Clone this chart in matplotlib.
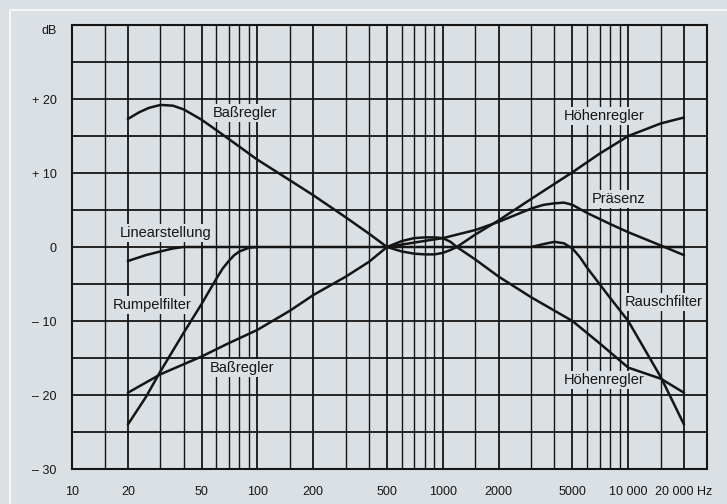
import matplotlib.pyplot as plt
from matplotlib.lines import Line2D

plt.rcParams['font.family'] = ['Liberation Sans', 'DejaVu Sans']

# Baßregler (Anhebung) + Höhenregler (Absenkung)
f_bass_up = [20, 23, 26, 30, 35, 40, 50, 60, 70, 100, 150, 200, 300, 400, 500, 600, 700, 800, 900,
             1000, 1100, 1190, 1500, 2000, 3000, 5000, 7000, 10000, 15000, 20000]
db_bass_up = [17.3, 18.2, 18.8, 19.2, 19.1, 18.6, 17.2, 15.8, 14.6, 11.8, 9.0, 7.0, 4.0, 1.8, 0.0, -0.6,
              -0.9, -1.0, -1.0, -0.8, -0.4, 0.0, -1.7, -4.0, -6.8, -10.0, -13.0, -16.3, -17.8, -19.7]

# Baßregler (Absenkung) + Höhenregler (Anhebung)
f_bass_down = [20, 30, 50, 70, 100, 150, 200, 300, 400, 500, 600, 700, 800, 900, 1000, 1100, 1190,
               1500, 2000, 3000, 5000, 7000, 10000, 15000, 20000]
db_bass_down = [-19.7, -17.2, -14.8, -13.0, -11.2, -8.6, -6.5, -4.0, -2.0, 0.0, 0.8, 1.2, 1.3, 1.3, 1.2,
                0.7, 0.0, 1.7, 3.6, 6.5, 10.1, 12.6, 15.0, 16.7, 17.5]

f_linear = [20, 25, 30, 35, 40, 20000]
db_linear = [-1.9, -1.1, -0.6, -0.2, 0.0, 0.0]

f_rumpel = [20, 25, 30, 40, 50, 60, 65, 70, 75, 80, 90, 100]
db_rumpel = [-24.0, -20.3, -16.8, -11.6, -7.7, -4.3, -2.9, -1.9, -1.1, -0.6, -0.1, 0.0]

f_praesenz = [500, 700, 1000, 1500, 2000, 3000, 3500, 4000, 4500, 5000, 6000, 7000, 8000, 10000, 15000, 20000]
db_praesenz = [0.0, 0.6, 1.2, 2.3, 3.4, 5.2, 5.7, 5.9, 6.0, 5.7, 4.6, 3.8, 3.1, 2.0, 0.2, -1.1]

f_rausch = [3000, 3500, 4000, 4500, 5000, 5500, 6000, 7000, 8000, 10000, 15000, 20000]
db_rausch = [0.0, 0.4, 0.7, 0.5, -0.2, -1.4, -2.8, -5.0, -6.9, -10.0, -17.6, -24.0]

grid_major = [20, 50, 100, 200, 500, 1000, 2000, 5000, 10000, 20000]
grid_minor = [15, 30, 40, 60, 70, 80, 90, 150, 300, 400, 600, 700, 800, 900,
              1500, 3000, 4000, 6000, 7000, 8000, 9000, 15000]
x_ticks = [10, 20, 50, 100, 200, 500, 1000, 2000, 5000, 10000, 20000]
x_labels = ['10', '20', '50', '100', '200', '500', '1000', '2000', '5000', '10 000', '20 000 Hz']
y_ticks = [-30, -20, -10, 0, 10, 20]
y_labels = ['– 30', '– 20', '– 10', '0', '+ 10', '+ 20']

labels = [
    ('Baßregler', 57.6, 18.1),
    ('Höhenregler', 4500, 17.7),
    ('Präsenz', 6380, 6.5),
    ('Linearstellung', 18.2, 1.9),
    ('Rumpelfilter', 16.6, -7.8),
    ('Rauschfilter', 9610, -7.4),
    ('Baßregler', 55.5, -16.4),
    ('Höhenregler', 4500, -18.0),
]

bg = '#dbe0e4'
ink = '#151515'

fig = plt.figure(figsize=(7.27, 5.04), dpi=100, facecolor=bg)
# helle Kante oben und links (Scan-Rand)
fig.lines.append(Line2D([10 / 727, 1], [1 - 10 / 504, 1 - 10 / 504], transform=fig.transFigure,
                        color='#f3f5f6', lw=1.5))
fig.lines.append(Line2D([10 / 727, 10 / 727], [0, 1 - 10 / 504], transform=fig.transFigure,
                        color='#f3f5f6', lw=1.5))

ax = fig.add_axes([72 / 727, 35 / 504, 635 / 727, 444 / 504])
ax.set_facecolor(bg)
ax.set_xscale('log')
ax.set_xlim(10, 26600)
ax.set_ylim(-30, 30)

for f in grid_major:
    ax.axvline(f, color=ink, lw=1.3, zorder=1)
for f in grid_minor:
    ax.axvline(f, color=ink, lw=1.0, zorder=1)
for y in range(-25, 30, 5):
    ax.axhline(y, color=ink, lw=1.3, zorder=1)

for fx, dbx in [(f_bass_up, db_bass_up), (f_bass_down, db_bass_down), (f_linear, db_linear),
                (f_rumpel, db_rumpel), (f_praesenz, db_praesenz), (f_rausch, db_rausch)]:
    ax.plot(fx, dbx, color=ink, lw=1.8, zorder=4, solid_capstyle='round', solid_joinstyle='round')

for txt, x, y in labels:
    ax.text(x, y, txt, fontsize=10.5, color=ink, ha='left', va='center', zorder=3,
            bbox=dict(facecolor=bg, edgecolor='none', pad=1.5))

ax.set_xticks(x_ticks)
ax.set_xticklabels(x_labels)
ax.minorticks_off()
ax.set_yticks(y_ticks)
ax.set_yticklabels(y_labels)
ax.tick_params(axis='x', length=0, labelsize=9, colors=ink, pad=12)
ax.tick_params(axis='y', length=0, labelsize=9, colors=ink, pad=11)
ax.text(-0.024, 1.0, 'dB', transform=ax.transAxes, ha='right', va='top', fontsize=9, color=ink)
for s in ax.spines.values():
    s.set_color(ink)
    s.set_linewidth(1.5)

fig.savefig('out.png', dpi=100, facecolor=bg)
